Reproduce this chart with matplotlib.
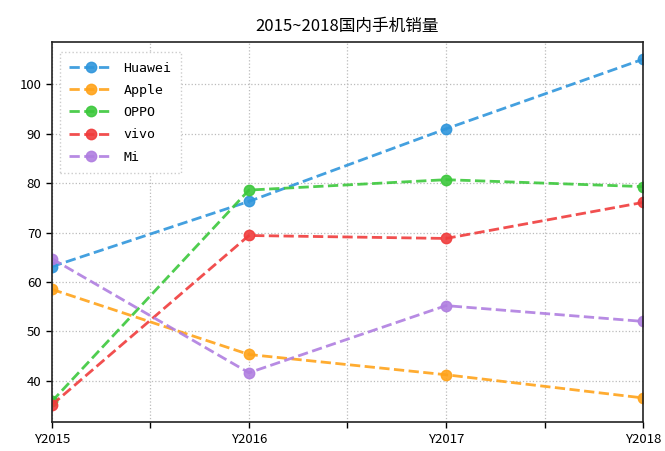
import matplotlib
matplotlib.use("Agg")
import matplotlib.pyplot as plt
import numpy as np

plt.rcParams['font.family'] = ['Noto Sans CJK SC', 'DejaVu Sans']

years = ["Y2015", "Y2016", "Y2017", "Y2018"]
brands = ["Huawei", "Apple", "OPPO", "vivo", "Mi"]
huawei = [63.1, 76.3, 91.0, 105.1]
apple = [58.5, 45.3, 41.2, 36.5]
oppo = [35.8, 78.6, 80.7, 79.3]
vivo = [35.1, 69.4, 68.8, 76.1]
mi = [64.7, 41.6, 55.2, 52.0]
series = [huawei, apple, oppo, vivo, mi]
colors = ["#2f96dc", "#ffa31a", "#3cc83c", "#f03c3c", "#b07ee0"]

fig = plt.figure(figsize=(6.65, 4.51), dpi=100)
ax = fig.add_axes([0.078, 0.064, 0.889, 0.843])

x = np.arange(len(years))
for name, vals, c in zip(brands, series, colors):
    ax.plot(x, vals, linestyle='--', marker='o', color=c, linewidth=2,
            markersize=7.5, label=name, alpha=0.9)

ax.set_xlim(0, len(years) - 1)
ticks = np.arange(0, len(years) - 1 + 0.01, 0.5)
labels = [years[int(t)] if float(t).is_integer() else "" for t in ticks]
ax.set_xticks(ticks)
ax.set_xticklabels(labels)
ax.set_yticks([40, 50, 60, 70, 80, 90, 100])
ax.tick_params(labelsize=9.5, direction='out', length=4, width=1)
ax.grid(True, linestyle=':', color='#bbbbbb', linewidth=0.9)
for s in ax.spines.values():
    s.set_linewidth(1.2)
    s.set_color('#222222')

ax.set_title("2015~2018国内手机销量", fontsize=12, pad=8)

leg = ax.legend(loc='upper left', prop={'family': 'DejaVu Sans Mono', 'size': 9.5},
                handlelength=3.2, labelspacing=0.7, borderpad=0.7,
                handletextpad=0.9, fancybox=False, framealpha=1,
                bbox_to_anchor=(0.003, 0.99))
leg.get_frame().set_edgecolor('#cccccc')
leg.get_frame().set_linestyle(':')

fig.savefig("out.png", dpi=100)
